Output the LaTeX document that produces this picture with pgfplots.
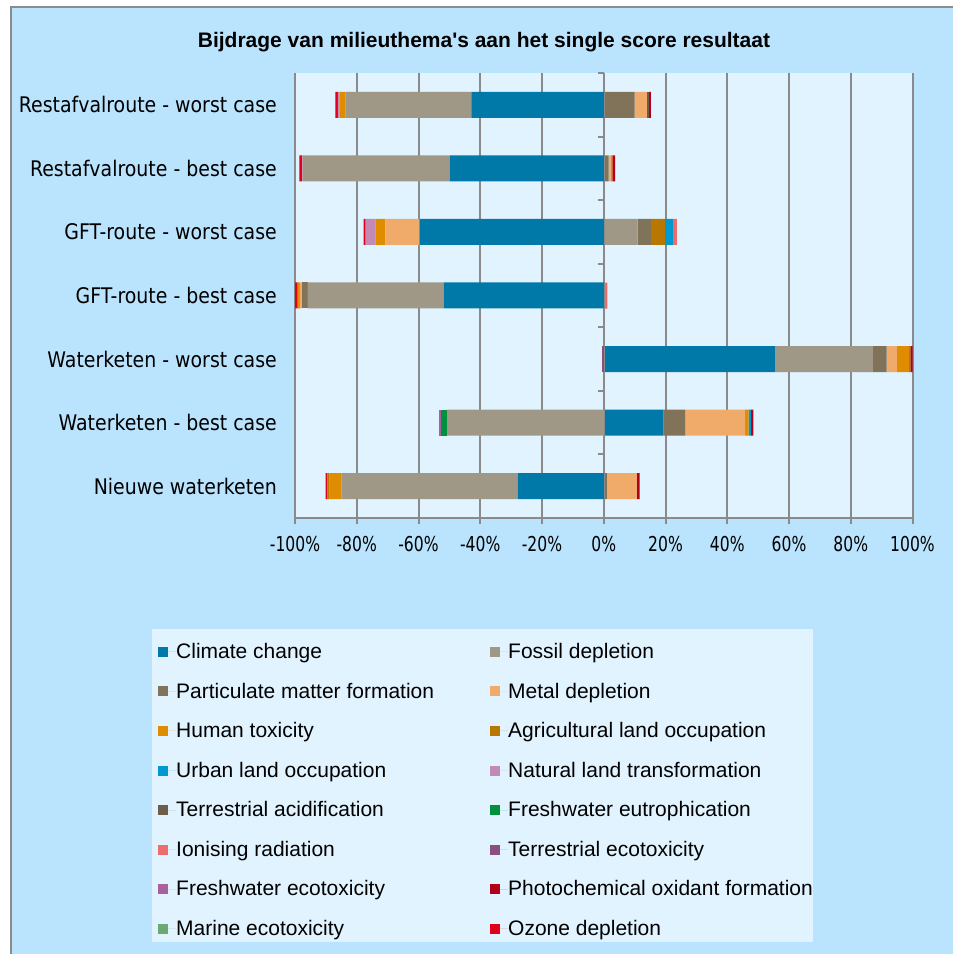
\documentclass[border=0pt]{standalone}
\usepackage{fontspec}
\setmainfont{DejaVu Sans}[FakeStretch=0.88]
\newfontfamily\tickfont{DejaVu Sans}[FakeStretch=0.76]
\newfontfamily\legfont{Liberation Sans}
\newfontfamily\titfont{Liberation Sans}
\usepackage{pgfplots}
\usepackage{pgfplotstable}
\pgfplotsset{compat=1.18}

\definecolor{outerbg}{HTML}{BAE3FD}
\definecolor{innerbg}{HTML}{E1F3FE}
\definecolor{gridgray}{HTML}{8A8A8A}
\definecolor{framegray}{HTML}{8C8C8C}
\definecolor{cCC}{HTML}{0079A8}
\definecolor{cFD}{HTML}{A09886}
\definecolor{cPM}{HTML}{80735A}
\definecolor{cMD}{HTML}{F0AA6A}
\definecolor{cHT}{HTML}{DF8C00}
\definecolor{cALO}{HTML}{B87800}
\definecolor{cULO}{HTML}{0098D0}
\definecolor{cNLT}{HTML}{C28BB5}
\definecolor{cTA}{HTML}{6B5E4A}
\definecolor{cFE}{HTML}{00903E}
\definecolor{cIR}{HTML}{EC6D6D}
\definecolor{cTE}{HTML}{8A4F7E}
\definecolor{cFET}{HTML}{A8609E}
\definecolor{cPOF}{HTML}{B0001A}
\definecolor{cME}{HTML}{6AAA72}
\definecolor{cOD}{HTML}{E0001A}

% positive contributions (y: 0 = Nieuwe waterketen ... 6 = Restafvalroute - worst case)
\pgfplotstableread{
y CC FD PM MD HT ALO ULO NLT TA FE IR TE FET POF ME OD
0 0 0 1.0 9.7 0 0 0 0 0 0 0 0 0 0.9 0 0
1 19.3 0 7.1 19.4 1.1 0 0.8 0 0 0 0 0 0 0.8 0 0
2 55.4 31.8 4.4 3.3 4.0 0.4 0 0 0 0 0 0 0 0.7 0 0
3 0 0 0 0 0 0 0 0 0 0 1.2 0 0 0 0 0
4 0 11.0 4.3 0 0 4.5 2.6 0 0 0 1.3 0 0 0 0 0
5 0 0 1.6 0.65 0.55 0 0 0 0 0 0 0 0 0.85 0 0
6 0 0 10.0 4.0 0 0 0 0 0.65 0 0 0 0 0.65 0 0
}\postable

% negative contributions
\pgfplotstableread{
y CC FD PM MD HT ALO ULO NLT TA FE IR TE FET POF ME OD
0 -27.9 -57.0 0 0 -3.9 -0.7 0 0 0 0 0 0 0 0 0 -0.6
1 0 -50.7 0 0 0 0 0 0 0 -1.9 0 0 -0.8 0 0 0
2 0 0 0 0 0 0 0 0 0 0 0 -0.7 0 0 0 0
3 -51.9 -44.0 -1.9 -0.6 -0.6 -0.3 0 0 0 0 0 0 0 0 0 -0.8
4 -59.6 0 0 -11.1 -3.2 0 0 -3.2 0 0 0 0 0 0 0 -0.7
5 -49.9 -47.6 0 0 0 0 0 -0.2 0 0 0 0 0 0 0 -0.9
6 -42.9 -40.7 0 0 -2.0 0 0 -0.55 0 0 0 0 0 0 0 -0.75
}\negtable

\pgfplotsset{
  mybar/.style={draw=none, legend image code/.code={%
      \path[##1,draw=none] (0pt,-5pt) rectangle (10pt,5pt);
      \path (0pt,0pt) -- (18pt,0pt);}},
}
\newcommand{\lgent}[1]{\makebox[314pt][l]{#1}}

\begin{document}
\begin{tikzpicture}[x=1pt,y=1pt]
\useasboundingbox (0,0) rectangle (953,954);
\fill[white] (0,0) rectangle (953,954);
\fill[outerbg] (11,0) rectangle (953,947);
\draw[framegray, line width=1.5pt] (11,0) -- (11,947) -- (953,947);
\fill[innerbg] (152,12) rectangle (813,325);
\node[font=\titfont\bfseries\fontsize{21}{25}\selectfont] at (484,912)
  {Bijdrage van milieuthema's aan het single score resultaat};

\begin{axis}[
  at={(295pt,436pt)}, anchor=south west, scale only axis,
  width=617.5pt, height=445pt,
  xbar stacked, bar width=26pt,
  xmin=-100, xmax=100, ymin=-0.5, ymax=6.5,
  axis background/.style={fill=innerbg},
  axis line style={draw=none},
  xtick={-100,-80,...,100}, xtick pos=left,
  xmajorgrids, grid style={draw=gridgray, line width=2pt},
  tick align=outside, major tick length=6pt,
  xtick style={draw=gridgray, line width=2pt},
  ytick={0,...,6}, ytick style={draw=none}, ytick pos=left,
  yticklabels={Nieuwe waterketen, Waterketen - best case, Waterketen - worst case,
    GFT-route - best case, GFT-route - worst case, Restafvalroute - best case,
    Restafvalroute - worst case},
  yticklabel style={font=\fontsize{21.5}{25}\selectfont, inner sep=0pt, xshift=-12pt},
  /pgf/number format/assume math mode=true,
  xticklabel={\pgfmathprintnumber{\tick}\%},
  xticklabel style={font=\tickfont\fontsize{20.5}{24}\selectfont, inner sep=0pt, yshift=-12pt},
  legend columns=2,
  legend cell align=left,
  legend style={draw=none, fill=none, at={(rel axis cs:-0.2219,-0.2818)},
    anchor=north west, inner sep=0pt, row sep=22.8pt,
    font=\legfont\fontsize{21}{25}\selectfont, nodes={inner sep=0pt}},
]
\addplot[mybar, fill=cCC] table[x=CC,y=y]{\postable}; \addlegendentry{\lgent{Climate change}}
\addplot[mybar, fill=cFD] table[x=FD,y=y]{\postable}; \addlegendentry{\lgent{Fossil depletion}}
\addplot[mybar, fill=cPM] table[x=PM,y=y]{\postable}; \addlegendentry{\lgent{Particulate matter formation}}
\addplot[mybar, fill=cMD] table[x=MD,y=y]{\postable}; \addlegendentry{\lgent{Metal depletion}}
\addplot[mybar, fill=cHT] table[x=HT,y=y]{\postable}; \addlegendentry{\lgent{Human toxicity}}
\addplot[mybar, fill=cALO] table[x=ALO,y=y]{\postable}; \addlegendentry{\lgent{Agricultural land occupation}}
\addplot[mybar, fill=cULO] table[x=ULO,y=y]{\postable}; \addlegendentry{\lgent{Urban land occupation}}
\addplot[mybar, fill=cNLT] table[x=NLT,y=y]{\postable}; \addlegendentry{\lgent{Natural land transformation}}
\addplot[mybar, fill=cTA] table[x=TA,y=y]{\postable}; \addlegendentry{\lgent{Terrestrial acidification}}
\addplot[mybar, fill=cFE] table[x=FE,y=y]{\postable}; \addlegendentry{\lgent{Freshwater eutrophication}}
\addplot[mybar, fill=cIR] table[x=IR,y=y]{\postable}; \addlegendentry{\lgent{Ionising radiation}}
\addplot[mybar, fill=cTE] table[x=TE,y=y]{\postable}; \addlegendentry{\lgent{Terrestrial ecotoxicity}}
\addplot[mybar, fill=cFET] table[x=FET,y=y]{\postable}; \addlegendentry{\lgent{Freshwater ecotoxicity}}
\addplot[mybar, fill=cPOF] table[x=POF,y=y]{\postable}; \addlegendentry{\lgent{Photochemical oxidant formation}}
\addplot[mybar, fill=cME] table[x=ME,y=y]{\postable}; \addlegendentry{\lgent{Marine ecotoxicity}}
\addplot[mybar, fill=cOD] table[x=OD,y=y]{\postable}; \addlegendentry{\lgent{Ozone depletion}}
\draw[gridgray, line width=2pt] (rel axis cs:0,0) -- (rel axis cs:1,0);
\end{axis}

\begin{axis}[
  at={(295pt,436pt)}, anchor=south west, scale only axis,
  width=617.5pt, height=445pt,
  xbar stacked, bar width=26pt,
  xmin=-100, xmax=100, ymin=-0.5, ymax=6.5,
  hide axis,
]
\addplot[mybar, fill=cCC] table[x=CC,y=y]{\negtable};
\addplot[mybar, fill=cFD] table[x=FD,y=y]{\negtable};
\addplot[mybar, fill=cPM] table[x=PM,y=y]{\negtable};
\addplot[mybar, fill=cMD] table[x=MD,y=y]{\negtable};
\addplot[mybar, fill=cHT] table[x=HT,y=y]{\negtable};
\addplot[mybar, fill=cALO] table[x=ALO,y=y]{\negtable};
\addplot[mybar, fill=cULO] table[x=ULO,y=y]{\negtable};
\addplot[mybar, fill=cNLT] table[x=NLT,y=y]{\negtable};
\addplot[mybar, fill=cTA] table[x=TA,y=y]{\negtable};
\addplot[mybar, fill=cFE] table[x=FE,y=y]{\negtable};
\addplot[mybar, fill=cIR] table[x=IR,y=y]{\negtable};
\addplot[mybar, fill=cTE] table[x=TE,y=y]{\negtable};
\addplot[mybar, fill=cFET] table[x=FET,y=y]{\negtable};
\addplot[mybar, fill=cPOF] table[x=POF,y=y]{\negtable};
\addplot[mybar, fill=cME] table[x=ME,y=y]{\negtable};
\addplot[mybar, fill=cOD] table[x=OD,y=y]{\negtable};
\draw[gridgray, line width=2pt] (axis cs:0,-0.5) -- (axis cs:0,6.5);
\pgfplotsinvokeforeach{-0.5,0.5,1.5,2.5,3.5,4.5,5.5,6.5}{
  \draw[gridgray, line width=2pt] (axis cs:0,#1) -- ++(-6pt,0pt);
}
\end{axis}
\end{tikzpicture}
\end{document}
